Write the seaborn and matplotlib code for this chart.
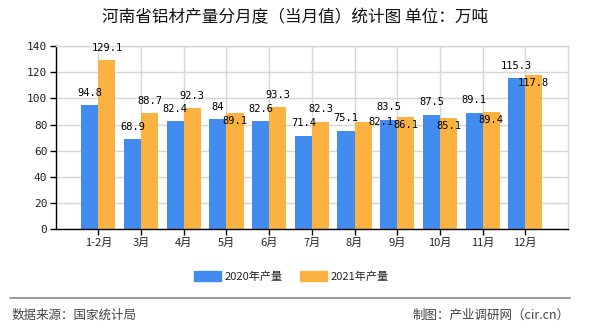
import matplotlib
matplotlib.use("Agg")
import matplotlib.pyplot as plt
import matplotlib.patches as mpatches
import seaborn as sns
import pandas as pd

months = ["1-2月", "3月", "4月", "5月", "6月", "7月", "8月", "9月", "10月", "11月", "12月"]
output_2020 = [94.8, 68.9, 82.4, 84, 82.6, 71.4, 75.1, 83.5, 87.5, 89.1, 115.3]
output_2021 = [129.1, 88.7, 92.3, 89.1, 93.3, 82.3, 82.1, 86.1, 85.1, 89.4, 117.8]
series_names = ["2020年产量", "2021年产量"]
yticks = [0, 20, 40, 60, 80, 100, 120, 140]

# label placement style (layout, not data)
place_2020 = ["above"] * 11
place_2021 = ["above", "above", "above", "below", "above", "above", "right",
              "below", "below", "below", "below"]

colors = ["#438CEF", "#FBB241"]

sns.set_theme(style="white")
plt.rcParams["font.family"] = ["Noto Sans CJK SC", "DejaVu Sans"]

df = pd.DataFrame({
    "month": months * 2,
    "value": output_2020 + output_2021,
    "series": [series_names[0]] * len(months) + [series_names[1]] * len(months),
})

fig = plt.figure(figsize=(5.9, 3.3), dpi=100)
ax = fig.add_axes([0.0944, 0.3051, 0.8683, 0.5555])

sns.barplot(data=df, x="month", y="value", hue="series", order=months,
            hue_order=series_names, palette=colors, saturation=1, width=0.8,
            dodge=True, ax=ax, legend=False, errorbar=None,
            linewidth=0, edgecolor="none")

ax.set_xlim(-1, 11)
ax.set_ylim(0, 140)
ax.set_yticks(yticks)
ax.set_yticklabels([str(v) for v in yticks], fontsize=8, family=["DejaVu Sans Mono"])
ax.set_xticks(range(len(months)))
ax.set_xticklabels(months, fontsize=8)
ax.set_xlabel("")
ax.set_ylabel("")
ax.grid(True, color="#d6d6d6", linewidth=1)
ax.set_axisbelow(True)
for s in ["top", "right"]:
    ax.spines[s].set_color("#d6d6d6")
    ax.spines[s].set_linewidth(1)
for s in ["left", "bottom"]:
    ax.spines[s].set_color("black")
    ax.spines[s].set_linewidth(1)
ax.tick_params(axis="both", which="both", direction="out", length=4, width=1,
               color="black", pad=2, labelcolor="#222222")
ax.tick_params(left=True, bottom=True)

offsets = {"above": (0, 12.5), "below": (0, -8), "right": (18, 0)}
for cont, vals, places in zip(ax.containers, [output_2020, output_2021], [place_2020, place_2021]):
    for bar, v, p in zip(cont, vals, places):
        x = bar.get_x() + bar.get_width() / 2
        h = bar.get_height()
        label = f"{v:g}"
        ax.annotate(label, xy=(x, h), xytext=offsets[p], textcoords="offset pixels",
                    ha="center", va="center", fontsize=7.5,
                    family=["DejaVu Sans Mono"], color="black")

fig.text(0.5, 1 - 18 / 330, "河南省铝材产量分月度（当月值）统计图 单位：万吨",
         ha="center", va="center", fontsize=12, color="#111111")

handles = [mpatches.Patch(color=c, label=n) for c, n in zip(colors, series_names)]
fig.legend(handles=handles, loc="center", bbox_to_anchor=(0.494, 1 - 276.5 / 330),
           ncol=2, frameon=False, fontsize=8, handlelength=2.4, handleheight=0.9,
           columnspacing=1.6, handletextpad=0.3)

fig.add_artist(plt.Line2D([10 / 590, 570 / 590], [1 - 297.5 / 330, 1 - 297.5 / 330],
                          color="#888888", linewidth=1.2, transform=fig.transFigure))
fig.text(12 / 590, 1 - 315 / 330, "数据来源：国家统计局", ha="left", va="center",
         fontsize=9, color="#444444")
fig.text(570 / 590, 1 - 315 / 330, "制图：产业调研网（cir.cn）", ha="right", va="center",
         fontsize=9, color="#444444")

fig.savefig("out.png", dpi=100)
